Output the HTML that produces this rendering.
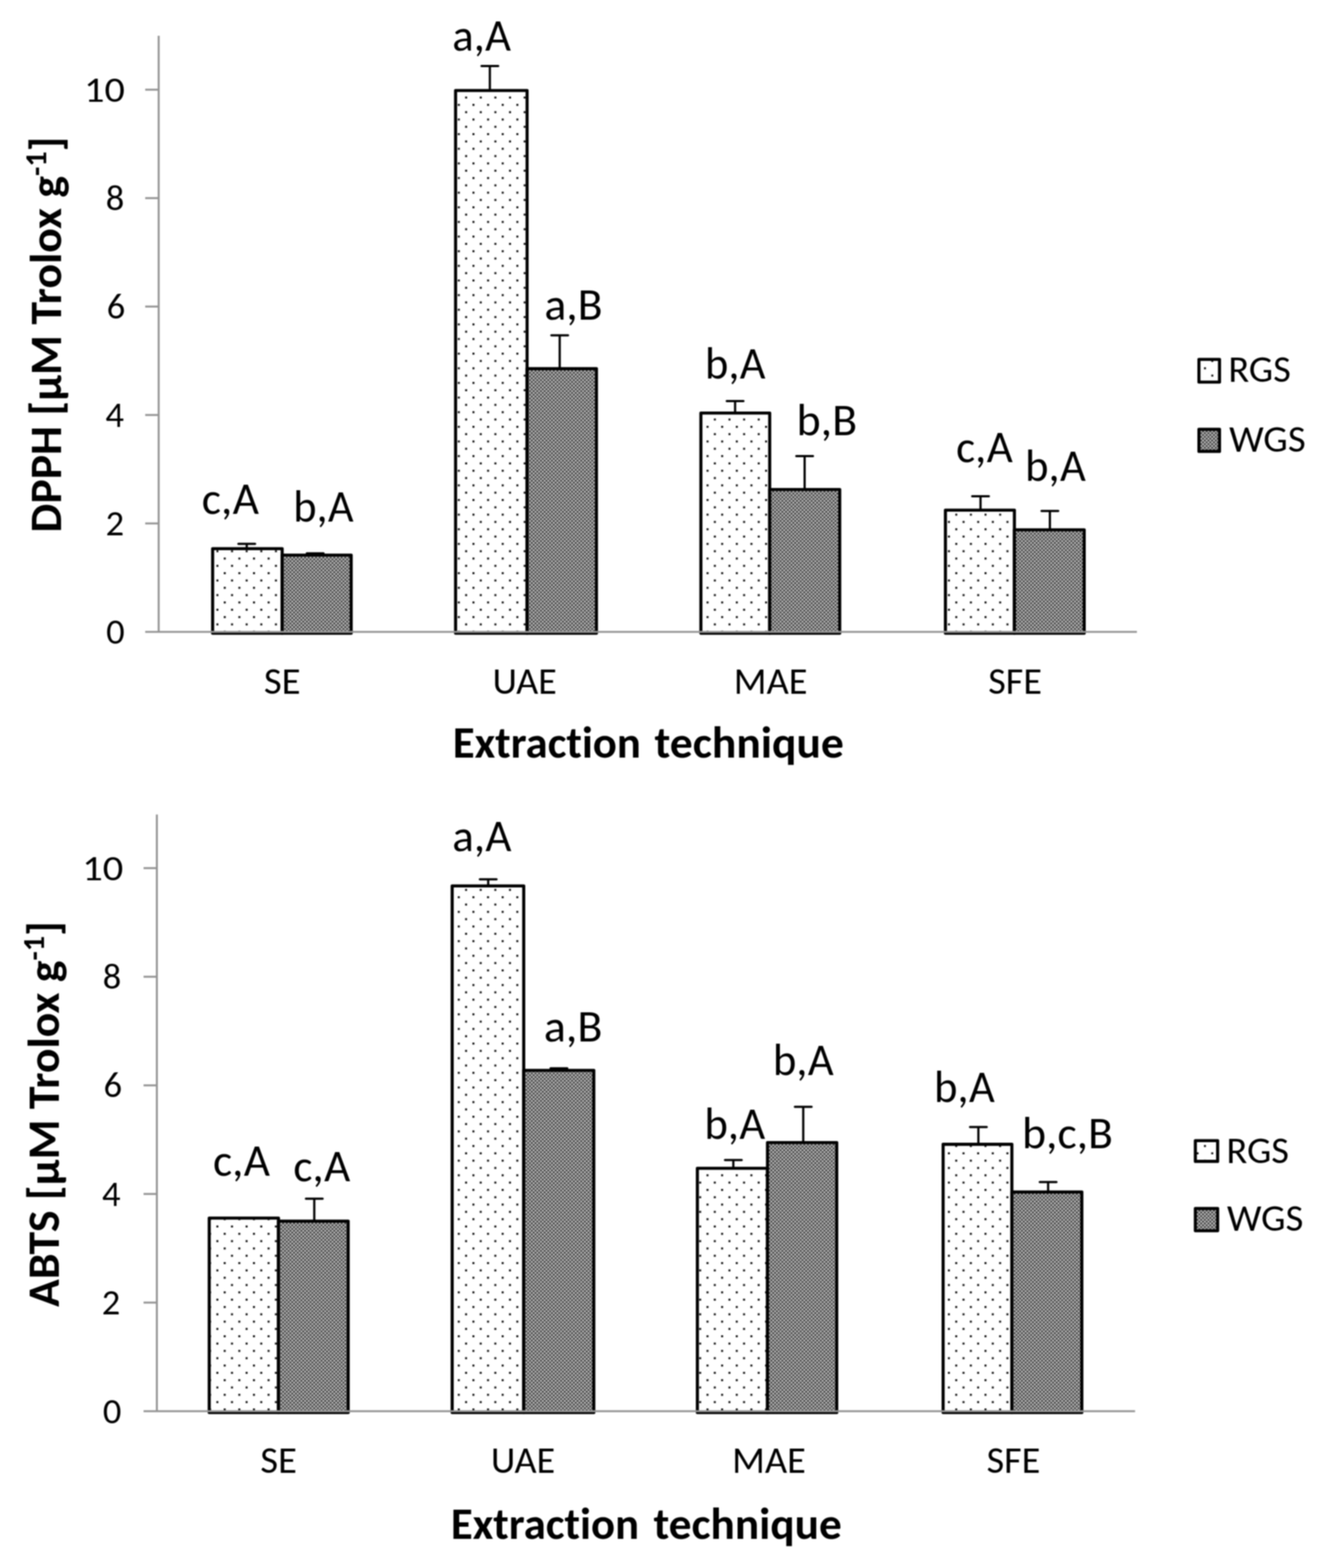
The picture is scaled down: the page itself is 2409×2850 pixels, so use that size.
<!DOCTYPE html>
<html><head><meta charset="utf-8"><title>DPPH and ABTS antioxidant activity by extraction technique</title>
<style>html,body{margin:0;padding:0;background:#fff;}svg{display:block;filter:blur(1.1px);}text{font-family:"Carlito", "Liberation Sans", "DejaVu Sans", sans-serif;fill:#000;font-variant-ligatures:none;font-size-adjust:cap-height 0.6416;font-feature-settings:"liga" 0,"clig" 0;}text[font-weight=bold]{font-size-adjust:cap-height 0.6484;}</style>
</head><body>
<svg width="2409" height="2850" viewBox="0 0 2409 2850">
<defs>
<pattern id="dots0" patternUnits="userSpaceOnUse" x="406.85" y="1013.45" width="26.6" height="26.6"><rect width="26.6" height="26.6" fill="#fff"/><rect x="0" y="0" width="3.5" height="3.5" fill="#000"/><rect x="13.3" y="13.3" width="3.5" height="3.5" fill="#000"/></pattern>
<pattern id="dots1" patternUnits="userSpaceOnUse" x="406.75" y="2506.85" width="26.6" height="26.6"><rect width="26.6" height="26.6" fill="#fff"/><rect x="0" y="0" width="3.5" height="3.5" fill="#000"/><rect x="13.3" y="13.3" width="3.5" height="3.5" fill="#000"/></pattern>
<pattern id="dense" patternUnits="userSpaceOnUse" x="1" y="1" width="6.65" height="6.65"><rect width="6.65" height="6.65" fill="#c4c4c4"/><rect x="0" y="0" width="3.33" height="3.33" fill="#3c3c3c"/><rect x="3.33" y="3.33" width="3.33" height="3.33" fill="#3c3c3c"/></pattern>
</defs>
<rect width="2409" height="2850" fill="#fff"/>
<g id="chart0">
<rect x="386.6" y="997.2" width="126.4" height="153.8" fill="url(#dots0)" stroke="#000" stroke-width="5.6" stroke-linejoin="round"/>
<rect x="513" y="1009" width="125.5" height="142" fill="url(#dense)" stroke="#000" stroke-width="5.6" stroke-linejoin="round"/>
<rect x="828.3" y="164.5" width="130" height="986.5" fill="url(#dots0)" stroke="#000" stroke-width="5.6" stroke-linejoin="round"/>
<rect x="958.3" y="670.1" width="126.1" height="480.9" fill="url(#dense)" stroke="#000" stroke-width="5.6" stroke-linejoin="round"/>
<rect x="1274.3" y="750.8" width="125.1" height="400.2" fill="url(#dots0)" stroke="#000" stroke-width="5.6" stroke-linejoin="round"/>
<rect x="1399.4" y="889.7" width="127.3" height="261.3" fill="url(#dense)" stroke="#000" stroke-width="5.6" stroke-linejoin="round"/>
<rect x="1718.9" y="927.3" width="125.4" height="223.7" fill="url(#dots0)" stroke="#000" stroke-width="5.6" stroke-linejoin="round"/>
<rect x="1844.3" y="963" width="126.9" height="188" fill="url(#dense)" stroke="#000" stroke-width="5.6" stroke-linejoin="round"/>
<path d="M448.6 997.2V988.4M433.4 988.4H463.8" stroke="#000" stroke-width="4" fill="none" stroke-linecap="round"/>
<path d="M573 1009V1005.7M557.8 1005.7H588.2" stroke="#000" stroke-width="4" fill="none" stroke-linecap="round"/>
<path d="M890.6 164.5V119.9M875.4 119.9H905.8" stroke="#000" stroke-width="4" fill="none" stroke-linecap="round"/>
<path d="M1017.6 670.1V609.4M1002.4 609.4H1032.8" stroke="#000" stroke-width="4" fill="none" stroke-linecap="round"/>
<path d="M1336.5 750.8V729M1321.3 729H1351.7" stroke="#000" stroke-width="4" fill="none" stroke-linecap="round"/>
<path d="M1462.9 889.7V828.9M1447.7 828.9H1478.1" stroke="#000" stroke-width="4" fill="none" stroke-linecap="round"/>
<path d="M1782.7 927.3V901.9M1767.5 901.9H1797.9" stroke="#000" stroke-width="4" fill="none" stroke-linecap="round"/>
<path d="M1908.8 963V928.8M1893.6 928.8H1924" stroke="#000" stroke-width="4" fill="none" stroke-linecap="round"/>
<path d="M288.5 65V1148.5" stroke="#959595" stroke-width="3.6" fill="none"/>
<path d="M264 1148.5H2067" stroke="#959595" stroke-width="3.6" fill="none"/>
<path d="M264 951.4H288.5" stroke="#959595" stroke-width="3.6" fill="none"/>
<path d="M264 754.3H288.5" stroke="#959595" stroke-width="3.6" fill="none"/>
<path d="M264 557.2H288.5" stroke="#959595" stroke-width="3.6" fill="none"/>
<path d="M264 360.1H288.5" stroke="#959595" stroke-width="3.6" fill="none"/>
<path d="M264 163H288.5" stroke="#959595" stroke-width="3.6" fill="none"/>
<text id="tk0_0" x="226.7" y="1170.49" font-size="66.4" text-anchor="end">0</text>
<text id="tk0_2" x="225.6" y="973.39" font-size="66.4" text-anchor="end">2</text>
<text id="tk0_4" x="225.3" y="776.29" font-size="66.4" text-anchor="end">4</text>
<text id="tk0_6" x="227.7" y="579.19" font-size="66.4" text-anchor="end">6</text>
<text id="tk0_8" x="226" y="382.09" font-size="66.4" text-anchor="end">8</text>
<text id="tk0_10" x="227" y="184.99" font-size="66.4" text-anchor="end" textLength="73.91" lengthAdjust="spacingAndGlyphs">10</text>
<text id="cat0_SE" x="479.65" y="1260.6" font-size="67" textLength="66.92" lengthAdjust="spacingAndGlyphs">SE</text>
<text id="cat0_UAE" x="895.64" y="1260.6" font-size="67" textLength="116.58" lengthAdjust="spacingAndGlyphs">UAE</text>
<text id="cat0_MAE" x="1334.14" y="1260.6" font-size="67" textLength="134.06" lengthAdjust="spacingAndGlyphs">MAE</text>
<text id="cat0_SFE" x="1796.65" y="1260.6" font-size="67" textLength="97.66" lengthAdjust="spacingAndGlyphs">SFE</text>
<text id="xt0a" x="823.27" y="1376.8" font-size="81.5" font-weight="bold" textLength="341.93" lengthAdjust="spacingAndGlyphs">Extraction</text>
<text id="xt0b" x="1190.07" y="1376.8" font-size="81.5" font-weight="bold" textLength="344.31" lengthAdjust="spacingAndGlyphs">technique</text>
<text id="lb0_0" x="366.76" y="933.9" font-size="83" textLength="103.98" lengthAdjust="spacingAndGlyphs">c,A</text>
<text id="lb0_1" x="533.28" y="947.5" font-size="83" textLength="109.63" lengthAdjust="spacingAndGlyphs">b,A</text>
<text id="lb0_2" x="822.26" y="91.5" font-size="83" textLength="106.79" lengthAdjust="spacingAndGlyphs">a,A</text>
<text id="lb0_3" x="989.77" y="580.6" font-size="83" textLength="105.82" lengthAdjust="spacingAndGlyphs">a,B</text>
<text id="lb0_4" x="1281.78" y="687.5" font-size="83" textLength="109.98" lengthAdjust="spacingAndGlyphs">b,A</text>
<text id="lb0_5" x="1448.27" y="790.9" font-size="83" textLength="110.02" lengthAdjust="spacingAndGlyphs">b,B</text>
<text id="lb0_6" x="1738.26" y="840.2" font-size="83" textLength="103.03" lengthAdjust="spacingAndGlyphs">c,A</text>
<text id="lb0_7" x="1863.78" y="873.8" font-size="83" textLength="110.23" lengthAdjust="spacingAndGlyphs">b,A</text>
<rect x="2179.8" y="653.2" width="37.4" height="41.3" fill="url(#dots0)" stroke="#000" stroke-width="5.6" stroke-linejoin="round"/>
<rect x="2179.8" y="780.4" width="37.4" height="40" fill="url(#dense)" stroke="#000" stroke-width="5.6" stroke-linejoin="round"/>
<text id="lg0_r" x="2233.3" y="694.1" font-size="67" textLength="113.55" lengthAdjust="spacingAndGlyphs">RGS</text>
<text id="lg0_w" x="2234.83" y="820.6" font-size="67" textLength="139.01" lengthAdjust="spacingAndGlyphs">WGS</text>
<text id="yt0" transform="translate(110.6 963.5) rotate(-90)" x="-4.52" font-size="81.5" font-weight="bold" textLength="719.91" lengthAdjust="spacingAndGlyphs">DPPH [µM Trolox g<tspan font-size="53.79" dy="-27">-1</tspan><tspan font-size="81.5" dy="27">]</tspan></text>
</g>
<g id="chart1">
<rect x="380.4" y="2214" width="125.9" height="353.5" fill="url(#dots1)" stroke="#000" stroke-width="5.6" stroke-linejoin="round"/>
<rect x="506.3" y="2219.6" width="126.7" height="347.9" fill="url(#dense)" stroke="#000" stroke-width="5.6" stroke-linejoin="round"/>
<rect x="822.1" y="1610.2" width="130.1" height="957.3" fill="url(#dots1)" stroke="#000" stroke-width="5.6" stroke-linejoin="round"/>
<rect x="952.2" y="1945.5" width="127.4" height="622" fill="url(#dense)" stroke="#000" stroke-width="5.6" stroke-linejoin="round"/>
<rect x="1267.9" y="2123.5" width="127.5" height="444" fill="url(#dots1)" stroke="#000" stroke-width="5.6" stroke-linejoin="round"/>
<rect x="1395.4" y="2076.7" width="125.9" height="490.8" fill="url(#dense)" stroke="#000" stroke-width="5.6" stroke-linejoin="round"/>
<rect x="1714.7" y="2079.9" width="125" height="487.6" fill="url(#dots1)" stroke="#000" stroke-width="5.6" stroke-linejoin="round"/>
<rect x="1839.7" y="2166.6" width="127.2" height="400.9" fill="url(#dense)" stroke="#000" stroke-width="5.6" stroke-linejoin="round"/>
<path d="M571.4 2219.6V2178.8M556.2 2178.8H586.6" stroke="#000" stroke-width="4" fill="none" stroke-linecap="round"/>
<path d="M887.6 1610.2V1598.3M872.4 1598.3H902.8" stroke="#000" stroke-width="4" fill="none" stroke-linecap="round"/>
<path d="M1016.2 1945.5V1941.8M1001 1941.8H1031.4" stroke="#000" stroke-width="4" fill="none" stroke-linecap="round"/>
<path d="M1333.3 2123.5V2108.5M1318.1 2108.5H1348.5" stroke="#000" stroke-width="4" fill="none" stroke-linecap="round"/>
<path d="M1460.4 2076.7V2011.8M1445.2 2011.8H1475.6" stroke="#000" stroke-width="4" fill="none" stroke-linecap="round"/>
<path d="M1778.8 2079.9V2048.6M1763.6 2048.6H1794" stroke="#000" stroke-width="4" fill="none" stroke-linecap="round"/>
<path d="M1905.6 2166.6V2148.4M1890.4 2148.4H1920.8" stroke="#000" stroke-width="4" fill="none" stroke-linecap="round"/>
<path d="M285.2 1480.4V2565" stroke="#959595" stroke-width="3.6" fill="none"/>
<path d="M261 2565H2063.7" stroke="#959595" stroke-width="3.6" fill="none"/>
<path d="M261 2367.58H285.2" stroke="#959595" stroke-width="3.6" fill="none"/>
<path d="M261 2170.16H285.2" stroke="#959595" stroke-width="3.6" fill="none"/>
<path d="M261 1972.74H285.2" stroke="#959595" stroke-width="3.6" fill="none"/>
<path d="M261 1775.32H285.2" stroke="#959595" stroke-width="3.6" fill="none"/>
<path d="M261 1577.9H285.2" stroke="#959595" stroke-width="3.6" fill="none"/>
<text id="tk1_0" x="220.6" y="2586.69" font-size="66.4" text-anchor="end">0</text>
<text id="tk1_2" x="218.7" y="2389.27" font-size="66.4" text-anchor="end">2</text>
<text id="tk1_4" x="219.1" y="2191.85" font-size="66.4" text-anchor="end">4</text>
<text id="tk1_6" x="221.8" y="1994.43" font-size="66.4" text-anchor="end">6</text>
<text id="tk1_8" x="220.5" y="1797.01" font-size="66.4" text-anchor="end">8</text>
<text id="tk1_10" x="224.2" y="1599.59" font-size="66.4" text-anchor="end" textLength="74.71" lengthAdjust="spacingAndGlyphs">10</text>
<text id="cat1_SE" x="473.15" y="2677.4" font-size="67" textLength="66.62" lengthAdjust="spacingAndGlyphs">SE</text>
<text id="cat1_UAE" x="892.64" y="2677.4" font-size="67" textLength="116.58" lengthAdjust="spacingAndGlyphs">UAE</text>
<text id="cat1_MAE" x="1331.14" y="2677.4" font-size="67" textLength="134.06" lengthAdjust="spacingAndGlyphs">MAE</text>
<text id="cat1_SFE" x="1793.65" y="2677.4" font-size="67" textLength="97.66" lengthAdjust="spacingAndGlyphs">SFE</text>
<text id="xt1a" x="819.87" y="2796.8" font-size="81.5" font-weight="bold" textLength="341.93" lengthAdjust="spacingAndGlyphs">Extraction</text>
<text id="xt1b" x="1188.17" y="2796.8" font-size="81.5" font-weight="bold" textLength="342.31" lengthAdjust="spacingAndGlyphs">technique</text>
<text id="lb1_0" x="387.27" y="2136.5" font-size="83" textLength="103.48" lengthAdjust="spacingAndGlyphs">c,A</text>
<text id="lb1_1" x="533.26" y="2146.7" font-size="83" textLength="103.63" lengthAdjust="spacingAndGlyphs">c,A</text>
<text id="lb1_2" x="822.26" y="1547" font-size="83" textLength="107.64" lengthAdjust="spacingAndGlyphs">a,A</text>
<text id="lb1_3" x="988.77" y="1893.3" font-size="83" textLength="106.32" lengthAdjust="spacingAndGlyphs">a,B</text>
<text id="lb1_4" x="1280.77" y="2069.8" font-size="83" textLength="110.43" lengthAdjust="spacingAndGlyphs">b,A</text>
<text id="lb1_5" x="1405.27" y="1953.8" font-size="83" textLength="110.43" lengthAdjust="spacingAndGlyphs">b,A</text>
<text id="lb1_6" x="1698.28" y="2003.2" font-size="83" textLength="110.18" lengthAdjust="spacingAndGlyphs">b,A</text>
<text id="lb1_7" x="1858.28" y="2086.9" font-size="83" textLength="165.06" lengthAdjust="spacingAndGlyphs">b,c,B</text>
<rect x="2173.3" y="2073.3" width="40.5" height="37.6" fill="url(#dots1)" stroke="#000" stroke-width="5.6" stroke-linejoin="round"/>
<rect x="2173.3" y="2196.6" width="40.5" height="40.4" fill="url(#dense)" stroke="#000" stroke-width="5.6" stroke-linejoin="round"/>
<text id="lg1_r" x="2229.81" y="2113.8" font-size="67" textLength="113.7" lengthAdjust="spacingAndGlyphs">RGS</text>
<text id="lg1_w" x="2230.83" y="2237.1" font-size="67" textLength="138.91" lengthAdjust="spacingAndGlyphs">WGS</text>
<text id="yt1" transform="translate(107.1 2375.2) rotate(-90)" x="-0.32" font-size="81.5" font-weight="bold" textLength="701.31" lengthAdjust="spacingAndGlyphs">ABTS [µM Trolox g<tspan font-size="53.79" dy="-27">-1</tspan><tspan font-size="81.5" dy="27">]</tspan></text>
</g>
</svg>
</body></html>
